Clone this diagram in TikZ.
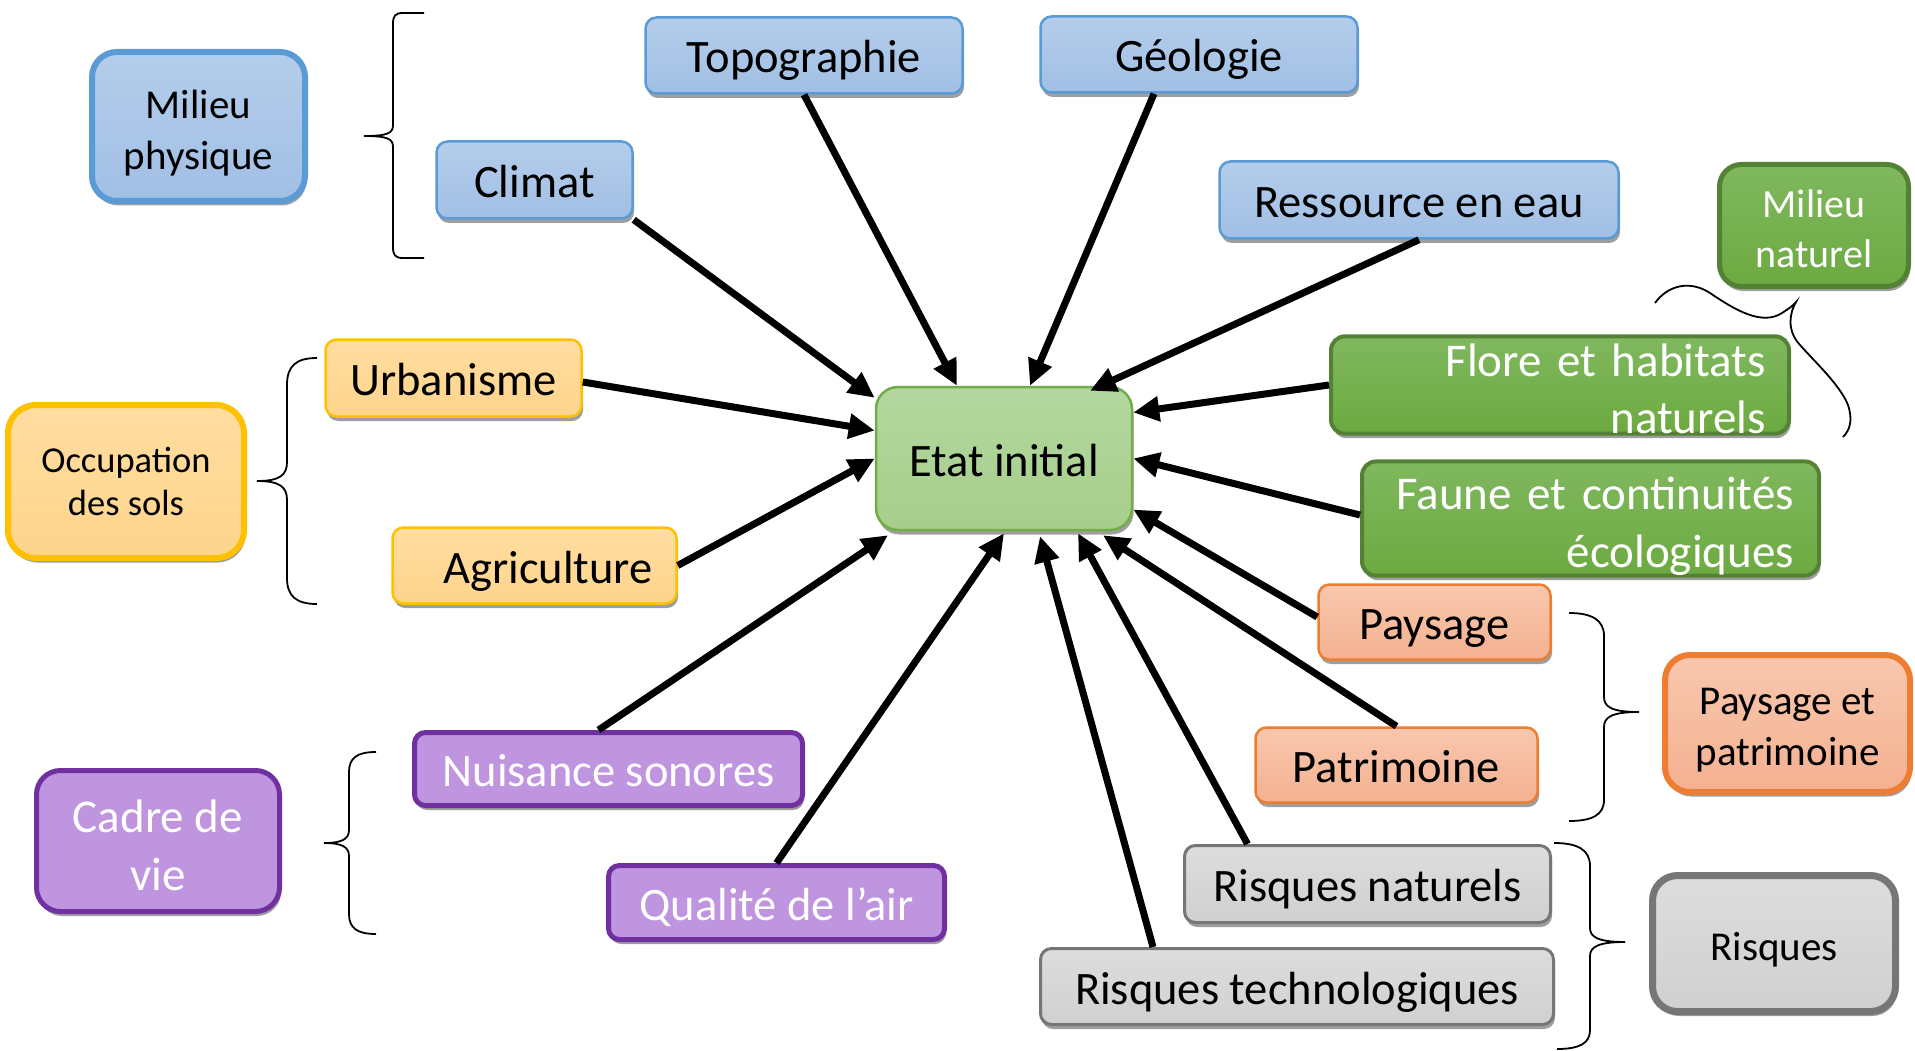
\documentclass[tikz,border=0pt]{standalone}
\usepackage{fontspec}
\setmainfont{Carlito}
\usetikzlibrary{arrows.meta,shadows,calc}
\definecolor{bluebd}{HTML}{5B9BD5}
\definecolor{bluetop}{HTML}{B4CDEA}
\definecolor{bluebot}{HTML}{A1BFE5}
\definecolor{ctrbd}{HTML}{70AD47}
\definecolor{ctrtop}{HTML}{B4D79F}
\definecolor{ctrbot}{HTML}{A6CE8B}
\definecolor{dgbd}{HTML}{548235}
\definecolor{dgtop}{HTML}{80B85F}
\definecolor{dgbot}{HTML}{6CAA40}
\definecolor{yelbd}{HTML}{FFC000}
\definecolor{yeltop}{HTML}{FFDDA0}
\definecolor{yelbot}{HTML}{FED48C}
\definecolor{purbd}{HTML}{7030A0}
\definecolor{purfill}{HTML}{BF95DF}
\definecolor{salbd}{HTML}{ED7D31}
\definecolor{saltop}{HTML}{F8C7AE}
\definecolor{salbot}{HTML}{F4B190}
\definecolor{grybd}{HTML}{767676}
\definecolor{grytop}{HTML}{DDDDDD}
\definecolor{grybot}{HTML}{D0D0D0}
\newcommand{\lift}[1]{\rule{0pt}{#1pt}}
\tikzset{
  basebox/.style={rectangle, rounded corners=11pt, inner sep=0pt, align=center,
    drop shadow={shadow xshift=1.5pt, shadow yshift=-4.5pt, fill=black!38, opacity=1},
    font=\fontsize{46.5}{56}\selectfont},
  oneline/.style={text height=42pt, text depth=7pt},
  bluebox/.style={basebox, draw=bluebd, line width=2.5pt, top color=bluetop, bottom color=bluebot},
  ctrbox/.style={basebox, draw=ctrbd, line width=2.5pt, top color=ctrtop, bottom color=ctrbot, rounded corners=22pt},
  dgbox/.style={basebox, draw=dgbd, line width=4pt, top color=dgtop, bottom color=dgbot, text=white, rounded corners=14pt},
  yelbox/.style={basebox, draw=yelbd, line width=2.5pt, top color=yeltop, bottom color=yelbot},
  purbox/.style={basebox, draw=purbd, line width=5pt, fill=purfill, text=white},
  salbox/.style={basebox, draw=salbd, line width=2.5pt, top color=saltop, bottom color=salbot},
  grybox/.style={basebox, draw=grybd, line width=3pt, top color=grytop, bottom color=grybot},
  bigbox/.style={rounded corners=25pt, line width=6pt, font=\fontsize{41}{51}\selectfont},
  arr/.style={line width=7pt, -{Triangle[length=26pt,width=24pt]}},
  bracepath/.style={line width=1.8pt, black},
}
\begin{document}
\begin{tikzpicture}[x=1pt,y=-1pt]
\useasboundingbox (0,0) rectangle (1915,1051);

% blue group
\node[bluebox, bigbox, minimum width=213pt, minimum height=149pt] (physique) at (198.5,126.5) {\lift{41}Milieu\\physique};
\node[bluebox, oneline, minimum width=317pt, minimum height=76pt] (topo) at (804,55.5) {Topographie};
\node[bluebox, oneline, minimum width=317pt, minimum height=76pt] (geo) at (1199,54.5) {Géologie};
\node[bluebox, oneline, minimum width=196pt, minimum height=77pt] (climat) at (534.5,180) {Climat};
\node[bluebox, oneline, minimum width=399pt, minimum height=77pt] (eau) at (1419,200) {Ressource en eau};

% green group
\node[dgbox, bigbox, line width=5pt, rounded corners=22pt, minimum width=189pt, minimum height=122pt, font=\fontsize{40}{50}\selectfont] (naturel) at (1814,225.5) {\lift{35}Milieu\\naturel};
\node[dgbox, minimum height=94pt, text width=412pt, inner xsep=23pt, align=right, font=\fontsize{47}{57}\selectfont] (flore) at (1560,385) {\lift{40}Flore et habitats\\naturels};
\node[dgbox, minimum height=107pt, text width=407pt, inner xsep=25pt, align=right, font=\fontsize{47}{58}\selectfont] (faune) at (1590.5,518.5) {\lift{48}Faune et continuités\\écologiques};

% yellow group
\node[yelbox, bigbox, rounded corners=28pt, minimum width=236pt, minimum height=153pt, font=\fontsize{36.5}{43}\selectfont] (occup) at (126,481.5) {Occupation\\des sols};
\node[yelbox, oneline, minimum width=256pt, minimum height=77pt] (urba) at (453.5,378) {Urbanisme};
\node[yelbox, oneline, minimum height=76pt, text width=236pt, inner xsep=24pt, align=right] (agri) at (534.5,565.5) {Agriculture};

% purple group
\node[purbox, rounded corners=24pt, minimum width=243pt, minimum height=141pt, font=\fontsize{47}{58}\selectfont] (cadre) at (158,841) {\lift{41}Cadre de\\vie};
\node[purbox, oneline, minimum width=388pt, minimum height=73pt] (nuis) at (608.5,769) {Nuisance sonores};
\node[purbox, oneline, minimum width=336pt, minimum height=74pt] (air) at (776.5,902.5) {Qualité de l’air};

% salmon group
\node[salbox, oneline, minimum width=232pt, minimum height=75pt] (paysage) at (1434.5,622) {Paysage};
\node[salbox, oneline, minimum width=282pt, minimum height=75pt] (patri) at (1396.5,765) {Patrimoine};
\node[salbox, bigbox, minimum width=245pt, minimum height=137pt] (pp) at (1787.5,723.5) {\lift{40}Paysage et\\patrimoine};

% grey group
\node[grybox, oneline, minimum width=366pt, minimum height=77pt] (rn) at (1367.5,884) {Risques naturels};
\node[grybox, oneline, minimum width=513pt, minimum height=76pt] (rt) at (1297,986.5) {Risques technologiques};
\node[grybox, bigbox, line width=7pt, text height=39pt, text depth=6pt, minimum width=243pt, minimum height=136pt] (risques) at (1774,943.5) {Risques};

% centre
\node[ctrbox, oneline, minimum width=256pt, minimum height=143pt] (etat) at (1004,458.5) {Etat initial};

% braces
\draw[bracepath] (424,13) -- (403,13) .. controls (395,13) and (393,16) .. (393,24) -- (393,125)
  .. controls (393,133) and (388,136) .. (364,136) .. controls (388,136) and (393,139) .. (393,147)
  -- (393,247) .. controls (393,255) and (395,258) .. (403,258) -- (424,258);
\draw[bracepath] (317,358) .. controls (296,358) and (287,366) .. (287,385) -- (287,462)
  .. controls (287,475) and (280,481) .. (257,481) .. controls (280,481) and (287,487) .. (287,500)
  -- (287,578) .. controls (287,596) and (296,604) .. (317,604);
\draw[bracepath] (376,752) .. controls (357,752) and (349,758) .. (349,772) -- (349,830)
  .. controls (349,839) and (342,843) .. (324,843) .. controls (342,843) and (349,847) .. (349,856)
  -- (349,914) .. controls (349,928) and (357,934) .. (376,934);
\draw[bracepath] (1569,613) .. controls (1592,613) and (1604,620) .. (1604,636) -- (1604,697)
  .. controls (1604,707) and (1612,712) .. (1639,712) .. controls (1612,712) and (1604,717) .. (1604,727)
  -- (1604,800) .. controls (1604,815) and (1592,821) .. (1569,821);
\draw[bracepath] (1554,843) .. controls (1578,843) and (1590,850) .. (1590,866) -- (1590,928)
  .. controls (1590,937) and (1598,942) .. (1625,942) .. controls (1598,942) and (1590,947) .. (1590,956)
  -- (1590,1030) .. controls (1590,1043) and (1580,1049) .. (1557,1049);
\draw[bracepath] (1655,303) .. controls (1668,285) and (1690,280) .. (1710,293)
  .. controls (1735,310) and (1762,326) .. (1782,313) .. controls (1788,309) and (1793,306) .. (1796,302)
  .. controls (1790,312) and (1786,330) .. (1800,345) .. controls (1815,362) and (1840,385) .. (1848,405)
  .. controls (1853,420) and (1850,430) .. (1843,437);

% arrows
\draw[arr] (climat.south east) -- ([yshift=-12pt]etat.north west);
\draw[arr] (topo.south) -- ([xshift=-47pt]etat.north);
\draw[arr] ([xshift=-45pt]geo.south) -- ([xshift=26pt]etat.north);
\draw[arr] (eau.south) -- ([xshift=86pt,yshift=-5pt]etat.north);
\draw[arr] (flore.west) -- ([yshift=46pt]etat.east);
\draw[arr] ([yshift=3.5pt]faune.west) -- (etat.east);
\draw[arr] ([yshift=5pt]paysage.west) -- ([yshift=-51pt]etat.east);
\draw[arr] (patri.north) -- ([xshift=99pt,yshift=-4pt]etat.south);
\draw[arr] ([xshift=-120pt]rn.north) -- ([xshift=74pt,yshift=-2pt]etat.south);
\draw[arr] ([xshift=-144pt]rt.north) -- ([xshift=36pt,yshift=-5pt]etat.south);
\draw[arr] (air.north) -- ([yshift=-2pt]etat.south);
\draw[arr] ([xshift=-10pt]nuis.north) -- ([xshift=-116pt,yshift=-4pt]etat.south);
\draw[arr] (agri.east) -- (etat.west);
\draw[arr] ([yshift=-4pt]urba.east) -- ([yshift=28pt]etat.west);
\end{tikzpicture}
\end{document}
